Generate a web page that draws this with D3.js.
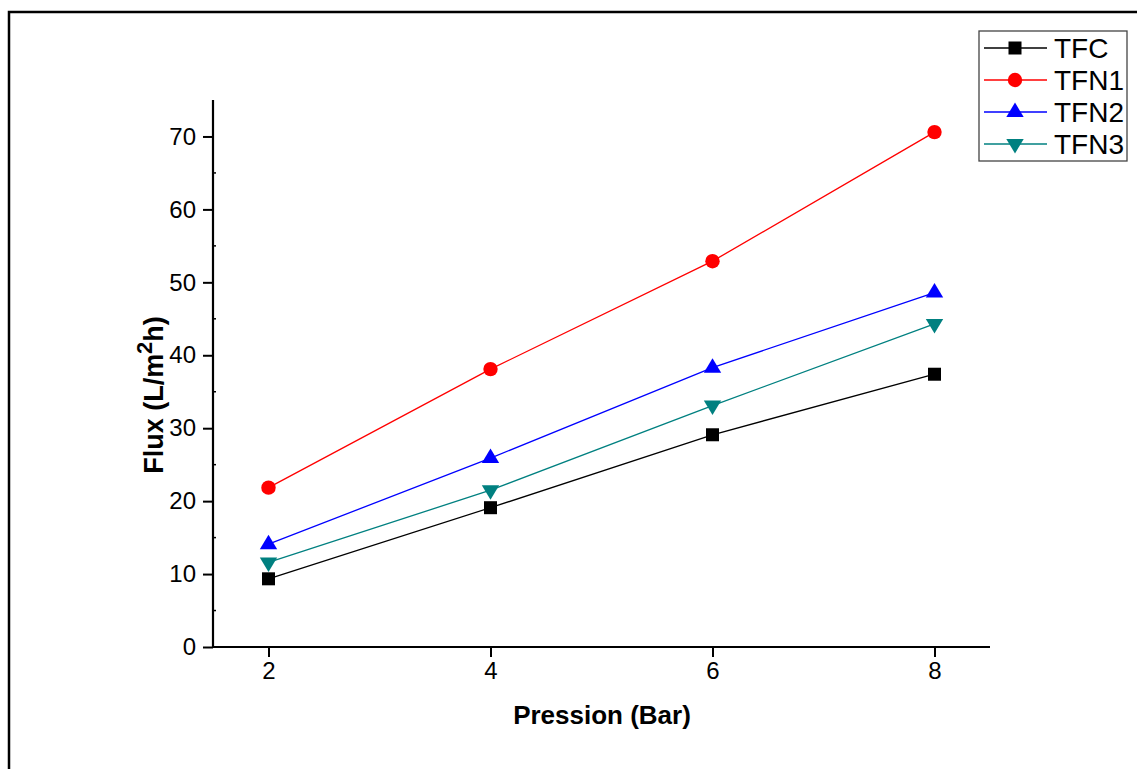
<!DOCTYPE html>
<html>
<head>
<meta charset="utf-8">
<script src="https://cdn.jsdelivr.net/npm/d3@7"></script>
<style>
  html, body { margin: 0; padding: 0; background: #fff; }
  svg { display: block; font-family: "Liberation Sans", Arial, sans-serif; }
</style>
</head>
<body>
<svg id="chart" width="1137" height="769"></svg>
<script>
const pressures = [2, 4, 6, 8];
const seriesNames = ["TFC", "TFN1", "TFN2", "TFN3"];
const tfc  = [9.35, 19.1, 29.1, 37.4];
const tfn1 = [21.85, 38.1, 52.9, 70.6];
const tfn2 = [14.1, 25.9, 38.3, 48.6];
const tfn3 = [11.6, 21.5, 33.1, 44.3];
const seriesColors = ["#000000", "#ff0000", "#0000ff", "#008080"];
const seriesSymbols = ["square", "circle", "triangleUp", "triangleDown"];
const yTicks = [0, 10, 20, 30, 40, 50, 60, 70];
const yMinorTicks = [5, 15, 25, 35, 45, 55, 65];
const xTicks = [2, 4, 6, 8];

const seriesValues = [tfc, tfn1, tfn2, tfn3];
const svg = d3.select("#chart");

// outer frame (top and left edges)
svg.append("path")
  .attr("d", "M9,769 L9,12 L1137,12")
  .attr("fill", "none").attr("stroke", "#000").attr("stroke-width", 2.5);

const x = d3.scaleLinear().domain([1.5, 8.5]).range([213, 990]);
const y = d3.scaleLinear().domain([0, 75]).range([647, 100]);

// axes
const xAxis = svg.append("g").attr("transform", `translate(0,${y(0)})`)
  .call(d3.axisBottom(x).tickValues(xTicks).tickSize(10).tickSizeOuter(0).tickPadding(5).tickFormat(d3.format("d")));
const yAxis = svg.append("g").attr("transform", `translate(${x(1.5)},0)`)
  .call(d3.axisLeft(y).tickValues(yTicks).tickSize(10).tickSizeOuter(0).tickPadding(7).tickFormat(d3.format("d")));
[xAxis, yAxis].forEach(g => {
  g.attr("font-size", 24).attr("font-family", "'Liberation Sans', Arial, sans-serif");
  g.select(".domain").attr("stroke-width", 2.2).attr("stroke", "#000");
  g.selectAll(".tick line").attr("stroke-width", 2).attr("stroke", "#000");
  g.selectAll(".tick text").attr("font-size", 24).attr("fill", "#000");
});
xAxis.select(".domain").attr("d", `M${x(1.5)},0H${x(8.5)}`);
yAxis.select(".domain").attr("d", `M0,${y(0)}V${y(75)}`);

// y minor ticks (small, inward)
svg.append("g").selectAll("line").data(yMinorTicks).join("line")
  .attr("x1", x(1.5)).attr("x2", x(1.5) + 3)
  .attr("y1", d => y(d)).attr("y2", d => y(d))
  .attr("stroke", "#000").attr("stroke-width", 1.5);

// axis titles
svg.append("text")
  .attr("x", 602).attr("y", 724)
  .attr("text-anchor", "middle")
  .attr("font-size", 26).attr("font-weight", "bold")
  .text("Pression (Bar)");

const yt = svg.append("text")
  .attr("transform", "translate(163,395) rotate(-90)")
  .attr("text-anchor", "middle")
  .attr("font-size", 27).attr("font-weight", "bold");
yt.append("tspan").text("Flux (L/m");
yt.append("tspan").attr("font-size", 22).attr("dy", -11).text("2");
yt.append("tspan").attr("dy", 11).text("h)");

// symbols
function drawSymbol(g, type, cx, cy, color) {
  if (type === "square") {
    g.append("rect").attr("x", cx - 6.5).attr("y", cy - 6.5).attr("width", 13).attr("height", 13).attr("fill", color);
  } else if (type === "circle") {
    g.append("circle").attr("cx", cx).attr("cy", cy).attr("r", 7.2).attr("fill", color);
  } else if (type === "triangleUp") {
    g.append("path").attr("d", `M${cx},${cy - 9.5} L${cx + 8.7},${cy + 5} L${cx - 8.7},${cy + 5} Z`).attr("fill", color);
  } else {
    g.append("path").attr("d", `M${cx},${cy + 9.5} L${cx + 8.7},${cy - 5} L${cx - 8.7},${cy - 5} Z`).attr("fill", color);
  }
}

const line = d3.line().x(d => x(d[0])).y(d => y(d[1]));
seriesValues.forEach((vals, i) => {
  const pts = pressures.map((p, j) => [p, vals[j]]);
  svg.append("path").attr("d", line(pts)).attr("fill", "none")
    .attr("stroke", seriesColors[i]).attr("stroke-width", 1.3);
  const g = svg.append("g");
  pts.forEach(p => drawSymbol(g, seriesSymbols[i], x(p[0]), y(p[1]), seriesColors[i]));
});

// legend
const lg = svg.append("g");
lg.append("rect").attr("x", 979).attr("y", 31).attr("width", 148).attr("height", 130)
  .attr("fill", "#fff").attr("stroke", "#444").attr("stroke-width", 1.3);
seriesNames.forEach((name, i) => {
  const cy = 48 + i * 32;
  lg.append("line").attr("x1", 984).attr("x2", 1047).attr("y1", cy).attr("y2", cy)
    .attr("stroke", seriesColors[i]).attr("stroke-width", 1.3);
  drawSymbol(lg, seriesSymbols[i], 1015, cy, seriesColors[i]);
  lg.append("text").attr("x", 1054).attr("y", cy + 10)
    .attr("font-size", 28).attr("fill", "#000").text(name);
});
</script>
</body>
</html>
